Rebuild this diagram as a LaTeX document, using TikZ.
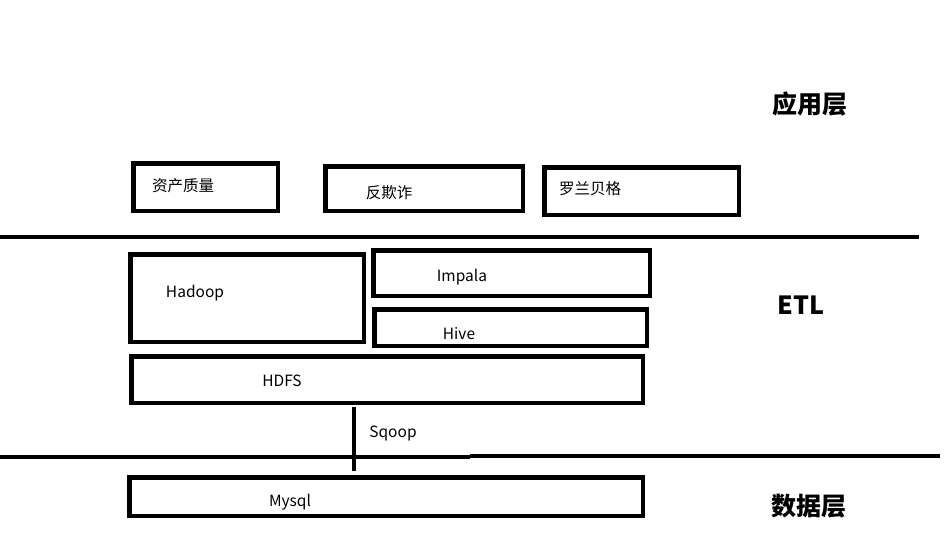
\documentclass[tikz,border=0pt]{standalone}
\usepackage{fontspec}
\setmainfont{Noto Sans CJK SC}
\begin{document}
\begin{tikzpicture}[x=1pt,y=-1pt,
  box/.style={draw,line width=4.5pt,inner sep=0pt},
  lbl/.style={font=\fontsize{15.5}{17}\selectfont,inner sep=0pt},
  layer/.style={font=\fontsize{25}{28}\selectfont\bfseries,inner sep=0pt},
  rule/.style={line width=4.5pt}]
\useasboundingbox (0,0) rectangle (944,551);
\newcommand\bx[5]{\node[box,minimum width={#4-#2-4.5},minimum height={#5-#3-4.5}] (#1) at ({(#2+#4)/2},{(#3+#5)/2}) {};}
% application layer
\bx{zc}{131}{161}{280}{213}
\bx{fqz}{323}{164}{525}{213}
\bx{llbg}{542}{165}{741}{217}
\node[lbl] (tzc) at (183,186) {资产质量};
\node[lbl] (tfqz) at (389,193) {反欺诈};
\node[lbl] (tllbg) at (590,189) {罗兰贝格};
% separator 1
\coordinate (l1a) at (0,237);
\coordinate (l1b) at (919,237);
\draw[rule] (l1a) -- (l1b);
% ETL
\bx{hadoop}{128}{252}{366}{344}
\bx{impala}{371}{248}{652}{298}
\bx{hive}{372}{307}{649}{348}
\bx{hdfs}{129}{354}{645}{405}
\node[lbl] (thadoop) at (195,293) {Hadoop};
\node[lbl] (timpala) at (462,277) {Impala};
\node[lbl] (thive) at (459,334) {Hive};
\node[lbl] (thdfs) at (282,381) {HDFS};
% separator 2
\coordinate (l2a) at (0,457);
\coordinate (l2m) at (470,457);
\coordinate (l2n) at (470,456);
\coordinate (l2b) at (940,456);
\draw[rule] (l2a) -- (l2m);
\draw[rule] (l2n) -- (l2b);
% data layer
\bx{mysql}{127}{475}{645}{518}
\node[lbl] (tmysql) at (290,502) {Mysql};
% sqoop
\coordinate (sq1) at (354,407);
\coordinate (sq2) at (354,471);
\draw[line width=4pt] (sq1) -- (sq2);
\node[lbl] (tsqoop) at (393,433) {Sqoop};
% layer titles
\node[layer] (app) at (810,104) {应用层};
\node[layer] (etl) at (801,305) {ETL};
\node[layer] (data) at (809,506) {数据层};
\end{tikzpicture}
\end{document}
